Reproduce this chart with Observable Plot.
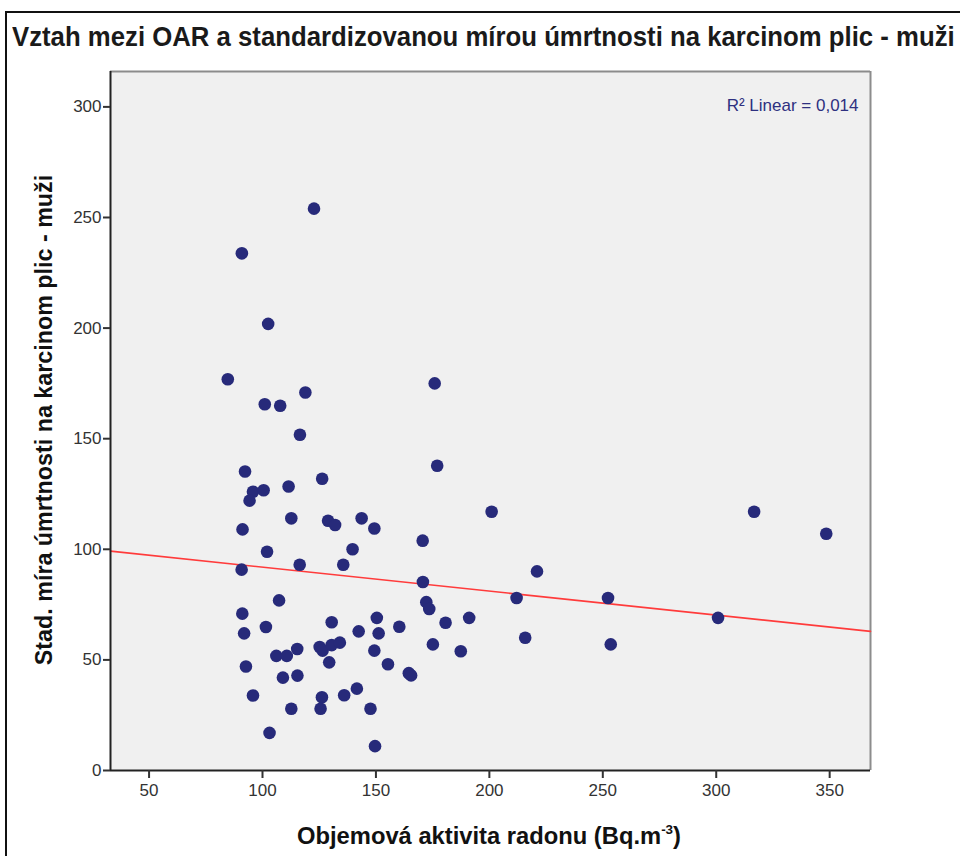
<!DOCTYPE html>
<html><head><meta charset="utf-8">
<script src="https://cdn.jsdelivr.net/npm/d3@7"></script>
<script src="https://cdn.jsdelivr.net/npm/@observablehq/plot@0.6"></script>
<style>
body{margin:0;background:#fff;}
#wrap{position:relative;width:960px;height:856px;overflow:hidden;font-family:"Liberation Sans",Arial,sans-serif;color:#111;}
#frame{position:absolute;left:5px;top:11px;width:1000px;height:900px;border:2px solid #111;box-sizing:border-box;}
#title{position:absolute;left:12px;top:22px;font-size:27px;font-weight:bold;color:#1a1a1a;white-space:nowrap;transform-origin:left top;}
#chart{position:absolute;left:0;top:56px;}
.lab{position:absolute;white-space:nowrap;font-weight:bold;font-size:23px;color:#111;}
#xlab{left:489px;top:836px;}
#ylab{left:44px;top:420px;}
sup{font-size:13px;vertical-align:10px;line-height:0;}
</style></head>
<body><div id="wrap">
<div id="frame"></div>
<div id="title">Vztah mezi OAR a standardizovanou mírou úmrtnosti na karcinom plic - muži</div>
<div id="chart"></div>
<div id="xlab" class="lab">Objemová aktivita radonu (Bq.m<sup>-3</sup>)</div>
<div id="ylab" class="lab">Stad. míra úmrtnosti na karcinom plic - muži</div>
</div>
<script>
const oar = [84.7,90.9,122.7,102.5,101,107.8,118.9,116.5,175.9,177,92.3,95.8,100.5,94.3,111.5,126.3,112.7,128.9,132,143.7,149.3,91.2,102,139.7,116.4,135.6,90.8,107.3,91.1,91.9,101.5,130.5,142.4,150.4,151.2,125.2,126.5,130.5,134.1,115.3,106.1,110.7,149.3,92.7,129.4,109,115.4,95.8,126.2,136,141.6,112.7,125.6,147.6,103.1,149.6,155.3,160.3,164.5,165.5,170.6,170.7,172.2,173.5,180.7,191.1,175.1,187.4,201,212,215.8,221,252.3,253.5,300.8,316.7,348.5];
const smr = [176.9,233.8,254,201.9,165.6,164.9,170.9,151.8,175,137.8,135.2,126,126.7,122,128.4,131.9,114,112.9,111,114,109.4,109,98.9,100,93,93,90.8,76.9,70.9,62,64.9,67,62.9,69,62,55.8,54.2,56.7,57.8,54.9,51.8,51.8,54.2,47,48.9,42,42.9,33.9,33.1,34,37,27.9,27.9,27.9,17,11,48,65,44,43,103.9,85.2,76.1,73,66.8,69,57,53.9,117,78,60,90,78,57,69,117,107];
const xTicks = [50,100,150,200,250,300,350];
const yTicks = [0,50,100,150,200,250,300];
const xDomain = [33,368];
const yDomain = [0,316];
const r2Label = "R² Linear = 0,014";

const data = oar.map((x,i)=>({x, y: smr[i]}));
// least-squares fit, drawn across the full x domain like SPSS
const mx = d3.mean(oar), my = d3.mean(smr);
const slope = d3.sum(oar, (x,i)=>(x-mx)*(smr[i]-my)) / d3.sum(oar, x=>(x-mx)**2);
const icpt = my - slope*mx;
const fit = xDomain.map(x=>({x, y: icpt + slope*x}));

const font = '"Liberation Sans",Arial,sans-serif';
const chart = Plot.plot({
  width:960, height:800,
  marginTop:15, marginLeft:110, marginRight:90, marginBottom:86,
  style:{fontFamily:font, fontSize:"17px", color:"#222", background:"transparent", overflow:"visible"},
  x:{domain:xDomain},
  y:{domain:yDomain},
  marks:[
    Plot.frame({fill:"#f0f0f0", stroke:null}),
    Plot.ruleY([yDomain[1]], {stroke:"#8c8c8c", strokeWidth:2}),
    Plot.ruleX([xDomain[1]], {stroke:"#8c8c8c", strokeWidth:2}),
    Plot.line(fit, {x:"x", y:"y", stroke:"#ff3b3b", strokeWidth:1.6}),
    Plot.dot(data, {x:"x", y:"y", r:6.3, fill:"#272a7a", stroke:null}),
    Plot.ruleX([xDomain[0]], {stroke:"#222", strokeWidth:2}),
    Plot.ruleY([yDomain[0]], {stroke:"#222", strokeWidth:2}),
    Plot.axisX({ticks:xTicks, tickSize:8, tickPadding:5, strokeWidth:2, stroke:"#333", label:null, fill:"#333"}),
    Plot.axisY({ticks:yTicks, tickSize:7, tickPadding:2, strokeWidth:2, stroke:"#333", label:null, fill:"#333"}),
    Plot.text([r2Label], {frameAnchor:"top-right", dx:-12, dy:27, fill:"#2e3080", fontSize:17, textAnchor:"end"})
  ]
});
document.getElementById("chart").appendChild(chart);

function fit1(el, target, rot){
  const w = el.offsetWidth;
  const s = target / w;
  el.style.transform = rot ? `translate(-50%,-50%) rotate(-90deg) scaleX(${s})` : (el.id==="title" ? `scaleX(${s})` : `translate(-50%,-50%) scaleX(${s})`);
}
fit1(document.getElementById("title"), 943);
fit1(document.getElementById("xlab"), 384);
fit1(document.getElementById("ylab"), 490, true);
</script>
</body></html>
